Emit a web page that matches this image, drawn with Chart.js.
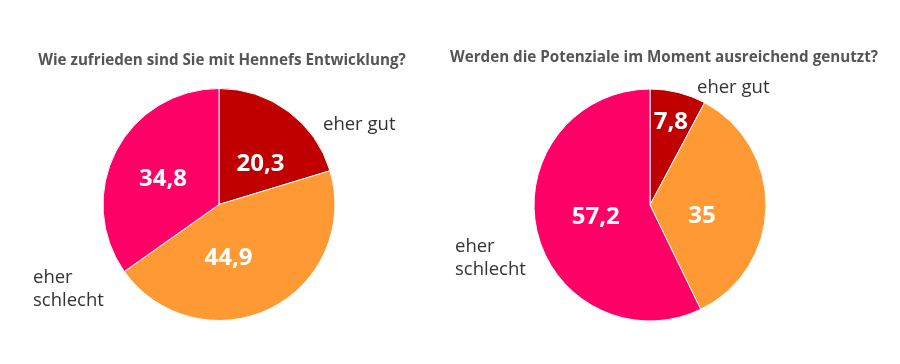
<!DOCTYPE html>
<html>
<head>
<meta charset="utf-8">
<script src="https://cdn.jsdelivr.net/npm/chart.js@4"></script>
<style>
  html, body { margin: 0; padding: 0; background: #fff; }
  .wrap { position: relative; width: 900px; height: 364px; }
  .box { position: absolute; top: 0; width: 450px; height: 364px; }
</style>
</head>
<body>
<div class="wrap">
  <div class="box" style="left:0"><canvas id="chartLeft"></canvas></div>
  <div class="box" style="left:450px"><canvas id="chartRight"></canvas></div>
</div>
<script>
// Antwortkategorien
var categories = ['eher gut', 'teils/teils', 'eher schlecht'];
var colors = ['#c00000', '#ff9933', '#ff0066'];

// Werte in Prozent
var valuesLeft = [20.3, 44.9, 34.8];
var valuesRight = [7.8, 35, 57.2];

var titleLeft = 'Wie zufrieden sind Sie mit Hennefs Entwicklung?';
var titleRight = 'Werden die Potenziale im Moment ausreichend genutzt?';

function fmt(v) {
    return String(v).replace('.', ',');
}

// zeichnet Titel, Werte in den Segmenten und Beschriftungen außen
var textPlugin = {
    id: 'textPlugin',
    afterDatasetsDraw: function(chart) {
        var ctx = chart.ctx;
        var cfg = chart.options.plugins.textPlugin;
        var meta = chart.getDatasetMeta(0);
        var arc0 = meta.data[0];
        var cx = arc0.x, cy = arc0.y, r = arc0.outerRadius;

        ctx.save();
        // Titel
        ctx.font = 'bold 15.2px "Open Sans"';
        ctx.fillStyle = '#555555';
        ctx.textAlign = 'center';
        ctx.textBaseline = 'middle';
        ctx.fillText(cfg.title, cx + cfg.titleDx, cfg.titleY);

        // Werte
        ctx.font = 'bold 24px "Open Sans"';
        ctx.fillStyle = '#ffffff';
        meta.data.forEach(function(arc, i) {
            var mid = (arc.startAngle + arc.endAngle) / 2 + (cfg.valueTurn[i] || 0);
            var f = cfg.valueRadius[i];
            ctx.fillText(fmt(chart.data.datasets[0].data[i]), cx + Math.cos(mid) * r * f, cy + Math.sin(mid) * r * f);
        });

        // Beschriftungen
        ctx.font = '18.5px "Open Sans"';
        ctx.fillStyle = '#333333';
        ctx.textAlign = 'left';
        ctx.textBaseline = 'alphabetic';
        cfg.labels.forEach(function(l) {
            l.lines.forEach(function(line, j) {
                ctx.fillText(line, cx + l.dx, cy + l.dy + j * 23);
            });
        });
        ctx.restore();
    }
};

function makeChart(id, values, padding, opts) {
    return new Chart(document.getElementById(id), {
        type: 'pie',
        data: {
            labels: categories,
            datasets: [{
                data: values,
                backgroundColor: colors,
                borderColor: '#ffffff',
                borderWidth: 1
            }]
        },
        options: {
            responsive: true,
            maintainAspectRatio: false,
            animation: false,
            layout: { padding: padding },
            plugins: {
                legend: { display: false },
                tooltip: { enabled: false },
                title: { display: false },
                textPlugin: opts
            }
        },
        plugins: [textPlugin]
    });
}

makeChart('chartLeft', valuesLeft, { left: 0, right: 12, top: 88, bottom: 43 }, {
    title: titleLeft,
    titleDx: 3,
    titleY: 61,
    valueRadius: [0.5, 0.47, 0.53],
    valueTurn: [0.16, 0.28, -0.05],
    labels: [
        { lines: ['eher gut'], dx: 104, dy: -75 },
        { lines: ['eher'], dx: -186, dy: 78 },
        { lines: ['schlecht'], dx: -186, dy: 101 }
    ]
});

makeChart('chartRight', valuesRight, { left: 0, right: 50, top: 88.5, bottom: 42.5 }, {
    title: titleRight,
    titleDx: 14,
    titleY: 58,
    valueRadius: [0.74, 0.46, 0.48],
    valueTurn: [0, 0.2, 0],
    labels: [
        { lines: ['eher gut'], dx: 47, dy: -112 },
        { lines: ['eher'], dx: -195, dy: 47 },
        { lines: ['schlecht'], dx: -195, dy: 70 }
    ]
});
</script>
</body>
</html>
